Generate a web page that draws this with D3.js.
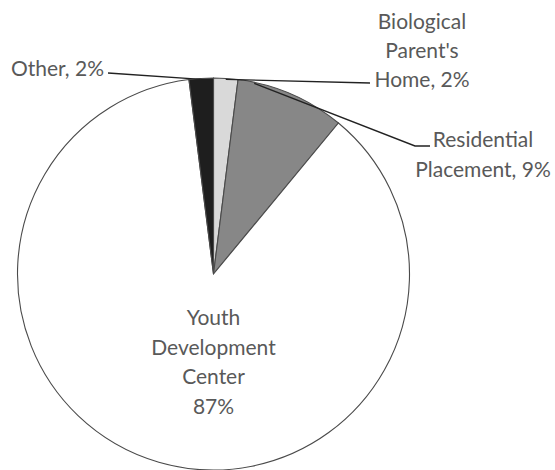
<!DOCTYPE html>
<html><head><meta charset="utf-8">
<script src="https://cdn.jsdelivr.net/npm/d3@7"></script>
<style>body{margin:0;background:#fff}svg{display:block}</style>
</head><body>
<svg id="c" width="555" height="470"></svg>
<script>
const categories = ["Biological Parent's Home", "Residential Placement", "Youth Development Center", "Other"];
const values = [2, 9, 87, 2];
const labelLines = [["Biological", "Parent's", "Home, 2%"], ["Residential", "Placement, 9%"], ["Youth", "Development", "Center", "87%"], ["Other, 2%"]];
const colors = ["#d9d9d9", "#878787", "#ffffff", "#1e1e1e"];

const svg = d3.select("#c");
const cx = 213.5, cy = 274, R = 196;
const g = svg.append("g").attr("transform", `translate(${cx},${cy})`);
const pie = d3.pie().sort(null).value(d => d)(values);
const arc = d3.arc().innerRadius(0).outerRadius(R);
g.selectAll("path").data(pie).join("path")
  .attr("d", arc).attr("fill", (d, i) => colors[i])
  .attr("stroke", "#4a4a4a").attr("stroke-width", 1.1);

const font = "Lato, 'Open Sans', sans-serif";
const fs = 21;
// frac: where along the slice the leader starts (0..1)
const layout = [
  {x: 422, y: 29, gap: 29, anchor: "middle", frac: 0.5, leader: [[370, 83]]},
  {x: 483, y: 147, gap: 30, anchor: "middle", frac: 0.15, leader: [[415, 146], [430, 146]]},
  {x: 213.5, y: 325, gap: 29.5, anchor: "middle", frac: null, leader: null},
  {x: 104, y: 76, gap: 29, anchor: "end", frac: 0.5, leader: [[108, 73]]}
];
pie.forEach((d, i) => {
  const L = layout[i];
  if (L.leader) {
    const a = d.startAngle + (d.endAngle - d.startAngle) * L.frac;
    const p0 = [cx + (R - 1) * Math.sin(a), cy - (R - 1) * Math.cos(a)];
    const pts = [p0, ...L.leader];
    svg.append("path").attr("d", d3.line()(pts)).attr("fill", "none")
      .attr("stroke", "#222").attr("stroke-width", 1.4);
  }
  const t = svg.append("text").attr("font-family", font).attr("font-size", fs)
    .attr("fill", "#595959").attr("text-anchor", L.anchor);
  labelLines[i].forEach((s, k) => {
    t.append("tspan").attr("x", L.x).attr("y", L.y + k * L.gap).text(s);
  });
});
</script>
</body></html>
